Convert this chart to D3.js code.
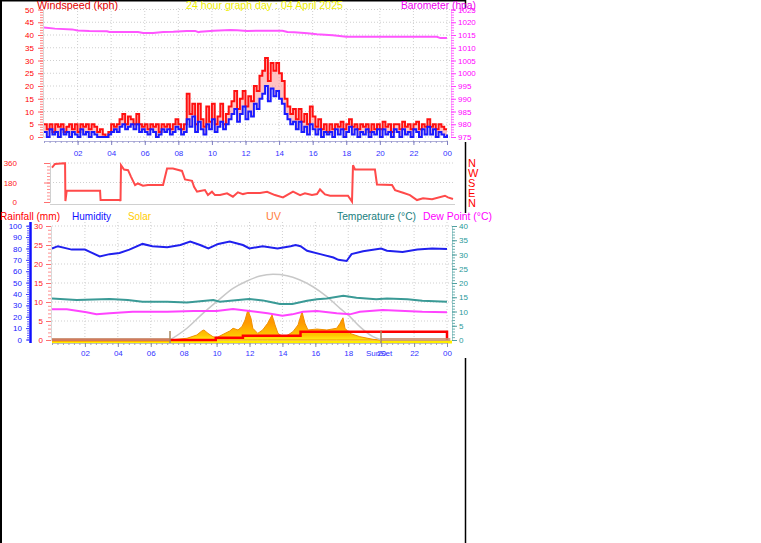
<!DOCTYPE html>
<html><head><meta charset="utf-8">
<script src="https://cdn.jsdelivr.net/npm/d3@7"></script>
<style>body{margin:0;background:#fff}svg{display:block}</style>
</head><body>
<script>
// ---------------- DATA ----------------
const hourTicks = [2,4,6,8,10,12,14,16,18,20,22,24];
const hourLabels = ["02","04","06","08","10","12","14","16","18","20","22","00"];
const windTicks = [0,5,10,15,20,25,30,35,40,45,50];
const baroTicks = [975,980,985,990,995,1000,1005,1010,1015,1020,1025];
const dirTicks = [0,180,360];
const dirLetters = ["N","W","S","E","N"];
const rainTicks = [0,5,10,15,20,25,30];
const humTicks = [0,10,20,30,40,50,60,70,80,90,100];
const tempTicks = [0,5,10,15,20,25,30,35,40];

// wind, 10-minute samples 00:00..24:00 (kph)
const windGust = [5,3,5,2,5,4, 5,2,4,5,3,5, 2,5,4,5,3,5, 4,2,3,1,0,2,
  5,4,5,7,9,5, 8,7,5,9,5,4, 5,3,5,4,5,2, 5,4,5,3,5,7,
  5,3,5,17,9,13, 5,13,7,4,12,6, 13,5,8,13,5,9, 12,14,18,11,15,18,
  12,16,14,20,18,24, 26,31,22,29,26,29, 25,22,15,12,9,11, 7,11,6,9,5,12,
  8,4,7,3,5,2, 5,3,5,4,6,3, 5,7,4,5,3,5, 4,5,2,5,3,5,
  3,6,4,5,2,5, 5,3,6,4,5,3, 5,6,3,5,4,7, 4,5,3,5,4,3, 3];
const windAvg = [2,0,3,1,2,0, 3,1,2,0,2,1, 0,3,1,2,0,2, 1,0,0,0,0,1,
  2,3,2,4,5,3, 4,5,3,5,2,3, 2,1,3,2,0,1, 3,2,3,1,2,4,
  3,1,2,7,4,8, 2,6,3,1,5,3, 7,2,4,6,3,5, 7,9,11,6,9,12,
  7,10,8,13,11,15, 17,20,14,19,16,18, 15,13,9,7,5,6, 3,6,2,4,1,5,
  3,1,3,0,2,1, 2,0,3,1,3,0, 2,4,1,3,0,2, 1,3,0,2,1,3,
  0,3,1,2,0,3, 2,0,3,1,2,0, 3,2,0,3,1,4, 1,3,0,2,1,0, 1];

const baroTimes = [0,0.65,1.67,2.0,2.7,3.75,3.9,5.6,5.9,6.5,7.1,7.7,8.5,9.0,9.2,9.3,10.1,11.1,11.5,12.1,14.2,14.5,14.9,15.7,16.25,17.2,18.0,23.4,23.6,24];
const baroValues = [1017.9,1017.5,1017.2,1016.8,1016.6,1016.5,1016.2,1016.2,1015.8,1015.8,1016.2,1016.3,1016.6,1016.6,1016.1,1016.3,1016.7,1017.0,1016.9,1016.6,1016.7,1016.2,1016.1,1015.7,1015.3,1014.9,1014.3,1014.3,1013.8,1013.8];

const dirTimes = [0,0.18,0.72,0.78,0.8,0.88,2.87,2.9,4.06,4.09,4.12,4.3,4.54,4.72,4.96,5.13,5.43,5.73,6.63,6.87,7.22,7.76,7.94,8.36,8.48,8.66,8.84,9.13,9.31,9.55,9.73,10.03,10.45,10.8,11.1,11.4,11.7,12.42,12.84,13.31,13.79,14.39,14.81,15.1,15.52,15.82,16.0,16.3,16.6,17.67,17.91,17.97,18.09,19.28,19.4,20.3,20.48,20.96,21.37,21.79,22.15,22.69,23.46,23.64,23.94];
const dirValues = [317,351,357,357,9,104,104,18,18,9,340,300,294,232,156,171,150,156,156,309,309,287,208,196,141,95,101,110,64,95,64,64,80,49,89,73,84,84,95,64,43,95,64,80,64,73,116,70,58,58,3,340,300,300,162,156,110,85,64,18,34,25,58,43,28];

const humTimes = [0,0.36,1.2,2.0,2.3,2.9,3.5,4.1,4.7,5.5,6.1,7.0,7.8,8.4,9.0,9.5,10.1,10.8,11.6,12.0,12.8,13.7,14.5,14.8,15.1,15.5,16.3,17.1,17.4,17.9,18.2,18.9,20.0,20.35,21.3,22.2,23.1,24];
const humValues = [80,82,79,79,77,73,75,76,79,84,82,81,83,86,83,80,84,86,83,80,82,80,82,83,82,78,75,72,70,69,75,77.5,80,78,77,79,80,79.5];

const tempTimes = [0,1.5,3.5,4.6,5.5,7.0,8.2,9.8,10.2,11.8,12.0,12.8,13.2,13.85,14.6,15.5,16.1,16.7,17.7,18.5,19.7,20.35,21.6,22.5,24];
const tempValues = [14.6,14.0,14.4,14.0,13.4,13.4,13.2,14.0,13.4,14.3,14.4,13.9,13.4,12.6,12.6,13.8,14.3,14.6,15.5,14.8,14.3,14.6,14.3,13.8,13.4];

const dewTimes = [0,0.9,2.1,2.7,3.5,4.9,7.0,8.6,10.0,11.0,12.0,13.1,14.0,14.6,15.25,16.1,17.3,18.1,18.7,20.1,21.1,22.5,24];
const dewValues = [10.8,10.8,9.7,9.0,9.4,9.9,9.9,10.2,10.2,10.9,10.2,9.4,8.5,9.0,9.9,10.2,9.4,9.0,9.9,10.5,10.3,9.9,9.7];

const solarTimes = [7.17,8.2,8.8,9.1,9.23,9.48,9.78,10.0,10.4,10.8,11.0,11.3,11.54,11.73,11.9,12.09,12.2,12.5,12.8,13.1,13.37,13.55,13.73,14.03,14.34,14.64,14.95,15.19,15.37,15.55,16.1,16.7,17.3,17.5,17.68,17.8,18.1,18.7,19.5,19.93];
const solarValues = [0,15,44,79,88,58,29,20,50,79,103,88,117,175,263,190,103,58,88,146,219,132,58,29,44,73,132,248,146,88,96,88,103,146,195,103,58,29,6,0];

const solarMaxTimes = [7.17,8.2,9.17,10.0,11.0,11.85,12.64,13.43,14.28,15.07,15.86,16.7,17.5,18.1,18.7,19.5,20.05];
const solarMaxValues = [0,103,234,336,453,518,561,576,564,526,467,380,278,205,117,29,0];

const rainTimes = [0,9.95,11.6,15.1,24,24];
const rainValues = [0,0.6,1.1,2.2,2.2,0];

const sunEvents = [7.17, 19.99];

// ---------------- DRAW ----------------
const FONT = '"Liberation Sans", Arial, Helvetica, sans-serif';
const W = 761, H = 543;
const svg = d3.select("body").append("svg").attr("width", W).attr("height", H);
svg.append("rect").attr("width", W).attr("height", H).attr("fill", "#fff");
const intFmt = d3.format("d");

function label(g, x, y, t, color, size, len, anchor) {
  const e = g.append("text").attr("x", x).attr("y", y).attr("fill", color)
    .attr("font-size", size).attr("font-family", FONT).text(t);
  if (len) e.attr("textLength", len).attr("lengthAdjust", "spacingAndGlyphs");
  if (anchor) e.attr("text-anchor", anchor);
  return e;
}
function styleAxis(g, tickColor, textColor, domainColor) {
  g.attr("font-size", 8).attr("font-family", FONT);
  if (domainColor) g.select(".domain").attr("stroke", domainColor);
  else g.select(".domain").remove();
  g.selectAll(".tick line").attr("stroke", tickColor);
  g.selectAll(".tick text").attr("fill", textColor);
  return g;
}
const GRID = "#cfcfcf";

// frame lines
const frame = svg.append("g").attr("stroke", "#000");
frame.append("line").attr("x1", 0).attr("x2", 466).attr("y1", 0.75).attr("y2", 0.75).attr("stroke-width", 1.5);
frame.append("line").attr("x1", 1).attr("x2", 1).attr("y1", 0).attr("y2", H).attr("stroke-width", 2);
[[0, 8], [142, 213], [358, H]].forEach(s =>
  frame.append("line").attr("x1", 465.5).attr("x2", 465.5).attr("y1", s[0]).attr("y2", s[1]).attr("stroke-width", 1.5));

// ===== TOP PANEL =====
const xTop = d3.scaleLinear([0, 24], [44, 447]);
const yWind = d3.scaleLinear([0, 50], [137, 9.5]);
const yBaro = d3.scaleLinear([975, 1025], [137, 9.5]);
const topG = svg.append("g");
topG.selectAll("line.hg").data(windTicks).join("line").attr("class", "hg")
  .attr("x1", 44).attr("x2", 450).attr("y1", d => yWind(d)).attr("y2", d => yWind(d))
  .attr("stroke", GRID).attr("stroke-dasharray", "1,2");
topG.selectAll("line.vg").data(hourTicks).join("line").attr("class", "vg")
  .attr("x1", d => xTop(d)).attr("x2", d => xTop(d)).attr("y1", 8).attr("y2", 141)
  .attr("stroke", GRID).attr("stroke-dasharray", "1,2");

const windTimes = windGust.map((d, i) => i / 6);
const windPts = windTimes.map((t, i) => ({ t, g: windGust[i], a: windAvg[i] }));
topG.append("path").datum(windPts)
  .attr("d", d3.area().curve(d3.curveStepAfter).x(d => xTop(d.t)).y0(d => yWind(d.a)).y1(d => yWind(d.g)))
  .attr("fill", "#ff9090").attr("opacity", 0.55);
topG.append("path").datum(windPts)
  .attr("d", d3.line().curve(d3.curveStepAfter).x(d => xTop(d.t)).y(d => yWind(d.g)))
  .attr("fill", "none").attr("stroke", "#ff1010").attr("stroke-width", 2);
topG.append("path").datum(windPts)
  .attr("d", d3.line().curve(d3.curveStepAfter).x(d => xTop(d.t)).y(d => yWind(d.a)))
  .attr("fill", "none").attr("stroke", "#1a1aff").attr("stroke-width", 2);
topG.append("path").datum(baroTimes.map((t, i) => [t, baroValues[i]]))
  .attr("d", d3.line().x(d => xTop(d[0])).y(d => yBaro(d[1])))
  .attr("fill", "none").attr("stroke", "#ff55ff").attr("stroke-width", 2);

// axes top
styleAxis(topG.append("g").attr("transform", "translate(43,0)")
  .call(d3.axisLeft(yWind).tickValues(d3.range(0, 51, 1)).tickSize(3).tickFormat("")), "#ff8080", "#ff0000", "#d8d8d8");
styleAxis(topG.append("g").attr("transform", "translate(43,0)")
  .call(d3.axisLeft(yWind).tickValues(windTicks).tickSize(5).tickPadding(4).tickFormat(intFmt)), "#ff6060", "#ff0000");
styleAxis(topG.append("g").attr("transform", "translate(451,0)")
  .call(d3.axisRight(yBaro).tickValues(d3.range(975, 1026, 1)).tickSize(3).tickFormat("")), "#ff66ff", "#ff00ff", "#ffb0ff");
styleAxis(topG.append("g").attr("transform", "translate(451,0)")
  .call(d3.axisRight(yBaro).tickValues(baroTicks).tickSize(5).tickPadding(2).tickFormat(intFmt)), "#ff44ff", "#ff00ff");
styleAxis(topG.append("g").attr("transform", "translate(0,141)")
  .call(d3.axisBottom(xTop).tickValues(d3.range(0, 24.01, 1 / 3)).tickSize(2).tickFormat("")), "#9a9ad0", "#3333ff", "#b0b0d8");
const tx = styleAxis(topG.append("g").attr("transform", "translate(0,141)")
  .call(d3.axisBottom(xTop).tickValues(hourTicks).tickSize(4).tickFormat((d, i) => hourLabels[i])), "#8080c0", "#3333ff");
tx.selectAll(".tick text").attr("y", 9);

// titles
label(svg, 37, 8.5, "Windspeed (kph)", "#e00000", 11, 81);
label(svg, 186, 8.5, "24 hour graph day : 04 April 2025", "#eeee00", 11, 157);
label(svg, 401, 8.5, "Barometer (hpa)", "#ee00ee", 11, 75);

// ===== MIDDLE PANEL (wind direction) =====
const xMid = d3.scaleLinear([0, 24], [52, 454]);
const yDir = d3.scaleLinear([0, 360], [202, 163]);
const midG = svg.append("g");
midG.selectAll("line.hg").data(dirTicks.slice(1)).join("line").attr("class", "hg")
  .attr("x1", 50).attr("x2", 455).attr("y1", d => yDir(d)).attr("y2", d => yDir(d))
  .attr("stroke", GRID).attr("stroke-dasharray", "1,2");
midG.append("line").attr("x1", 50).attr("x2", 455).attr("y1", 204.5).attr("y2", 204.5).attr("stroke", "#d0d0d0");
midG.append("path").datum(dirTimes.map((t, i) => [t, dirValues[i]]))
  .attr("d", d3.line().x(d => xMid(d[0])).y(d => yDir(d[1])))
  .attr("fill", "none").attr("stroke", "#ff4a4a").attr("stroke-width", 2);
styleAxis(midG.append("g").attr("transform", "translate(50,0)")
  .call(d3.axisLeft(yDir).tickValues(d3.range(0, 361, 30)).tickSize(3).tickFormat("")), "#ff9090", "#ff0000", "#d0d0d0");
styleAxis(midG.append("g").attr("transform", "translate(50,0)")
  .call(d3.axisLeft(yDir).tickValues(dirTicks).tickSize(6).tickPadding(27).tickFormat(intFmt)), "#ff7070", "#ff2020");
dirLetters.forEach((l, i) => label(svg, 468, 167 + i * 10, l, "#ff0000", 11));

// ===== BOTTOM PANEL =====
const xBot = d3.scaleLinear([0, 24], [52, 447]);
const yTemp = d3.scaleLinear([0, 40], [340, 226]);
const yRain = d3.scaleLinear([0, 30], [340, 226]);
const yHum = d3.scaleLinear([0, 100], [339.5, 225.7]);
const ySolar = d3.scaleLinear([0, 1000], [340, 226]);
const botG = svg.append("g");
botG.selectAll("line.hg").data(rainTicks.slice(1)).join("line").attr("class", "hg")
  .attr("x1", 52).attr("x2", 452).attr("y1", d => yRain(d)).attr("y2", d => yRain(d))
  .attr("stroke", GRID).attr("stroke-dasharray", "1,2");
botG.selectAll("line.vg").data(hourTicks).join("line").attr("class", "vg")
  .attr("x1", d => xBot(d)).attr("x2", d => xBot(d)).attr("y1", 222).attr("y2", 343)
  .attr("stroke", GRID).attr("stroke-dasharray", "1,2");

// baseline strip
botG.append("line").attr("x1", 52).attr("x2", 452).attr("y1", 342).attr("y2", 342)
  .attr("stroke", "#ffee00").attr("stroke-width", 3);

const defs = svg.append("defs");
const grad = defs.append("linearGradient").attr("id", "solarGrad").attr("gradientUnits", "userSpaceOnUse")
  .attr("x1", 0).attr("x2", 0).attr("y1", 342).attr("y2", 322);
grad.append("stop").attr("offset", 0).attr("stop-color", "#ffff20");
grad.append("stop").attr("offset", 0.35).attr("stop-color", "#ffc400");
grad.append("stop").attr("offset", 1).attr("stop-color", "#ff9800");
const solarPts = solarTimes.map((t, i) => [t, solarValues[i]]);
botG.append("path").datum(solarPts)
  .attr("d", d3.area().x(d => xBot(d[0])).y0(ySolar(0)).y1(d => ySolar(d[1])))
  .attr("fill", "url(#solarGrad)").attr("stroke", "#f09000").attr("stroke-width", 1);

botG.append("path").datum(solarMaxTimes.map((t, i) => [t, solarMaxValues[i]]))
  .attr("d", d3.line().curve(d3.curveMonotoneX).x(d => xBot(d[0])).y(d => ySolar(d[1])))
  .attr("fill", "none").attr("stroke", "#c8c8c8").attr("stroke-width", 1.5);

botG.append("path").datum(humTimes.map((t, i) => [t, humValues[i]]))
  .attr("d", d3.line().x(d => xBot(d[0])).y(d => yHum(d[1])))
  .attr("fill", "none").attr("stroke", "#2020ee").attr("stroke-width", 2);
botG.append("path").datum(tempTimes.map((t, i) => [t, tempValues[i]]))
  .attr("d", d3.line().x(d => xBot(d[0])).y(d => yTemp(d[1])))
  .attr("fill", "none").attr("stroke", "#3a9a96").attr("stroke-width", 2);
botG.append("path").datum(dewTimes.map((t, i) => [t, dewValues[i]]))
  .attr("d", d3.line().x(d => xBot(d[0])).y(d => yTemp(d[1])))
  .attr("fill", "none").attr("stroke", "#ff44ff").attr("stroke-width", 2);
botG.append("path").datum(rainTimes.map((t, i) => [t, rainValues[i]]))
  .attr("d", d3.line().curve(d3.curveStepAfter).x(d => xBot(d[0])).y(d => yRain(d[1])))
  .attr("fill", "none").attr("stroke", "#ff0000").attr("stroke-width", 2.5);

// night shading on baseline
const nightSpans = [[0, sunEvents[0]], [sunEvents[1], 24.2]];
botG.selectAll("rect.night").data(nightSpans).join("rect").attr("class", "night")
  .attr("x", d => xBot(d[0])).attr("width", d => xBot(d[1]) - xBot(d[0]))
  .attr("y", 338).attr("height", 3).attr("fill", "#c89070").attr("opacity", 0.85);
botG.selectAll("line.sun").data(sunEvents).join("line").attr("class", "sun")
  .attr("x1", d => xBot(d)).attr("x2", d => xBot(d)).attr("y1", 331).attr("y2", 343)
  .attr("stroke", "#a88860").attr("stroke-width", 1.5);

// bottom axes
const humAx = botG.append("g");
humAx.append("line").attr("x1", 30.5).attr("x2", 30.5).attr("y1", 222).attr("y2", 343)
  .attr("stroke", "#1010ff").attr("stroke-width", 2.5);
styleAxis(humAx.append("g").attr("transform", "translate(29,0)")
  .call(d3.axisLeft(yHum).tickValues(d3.range(0, 101, 2)).tickSize(2).tickFormat("")), "#6060ff", "#0000ff");
styleAxis(humAx.append("g").attr("transform", "translate(29,0)")
  .call(d3.axisLeft(yHum).tickValues(humTicks).tickSize(3).tickPadding(4).tickFormat(intFmt)), "#4040ff", "#2020ff");
styleAxis(botG.append("g").attr("transform", "translate(51,0)")
  .call(d3.axisLeft(yRain).tickValues(d3.range(0, 31, 1)).tickSize(3).tickFormat("")), "#ff9090", "#ff0000", "#d8d8d8");
styleAxis(botG.append("g").attr("transform", "translate(51,0)")
  .call(d3.axisLeft(yRain).tickValues(rainTicks).tickSize(5).tickPadding(3).tickFormat(intFmt)), "#ff7070", "#ff2020");
styleAxis(botG.append("g").attr("transform", "translate(452,0)")
  .call(d3.axisRight(yTemp).tickValues(d3.range(0, 41, 1)).tickSize(3).tickFormat("")), "#70b0b0", "#339999", "#a0d0d0");
styleAxis(botG.append("g").attr("transform", "translate(452,0)")
  .call(d3.axisRight(yTemp).tickValues(tempTicks).tickSize(5).tickPadding(2).tickFormat(intFmt)), "#50a0a0", "#2a9a9a");
styleAxis(botG.append("g").attr("transform", "translate(0,343)")
  .call(d3.axisBottom(xBot).tickValues(d3.range(0, 24.01, 1 / 3)).tickSize(2).tickFormat("")), "#a0a0b0", "#3333ff", "#c0c0c0");
const bx = styleAxis(botG.append("g").attr("transform", "translate(0,343)")
  .call(d3.axisBottom(xBot).tickValues(hourTicks).tickSize(4).tickFormat((d, i) => hourLabels[i])), "#9090a0", "#3333ff");
bx.selectAll(".tick text").attr("y", 7.5);
label(svg, xBot(sunEvents[1]) - 2, 356, "SunSet", "#3333ff", 8, null, "middle");

// bottom legend
label(svg, 0, 220, "Rainfall (mm)", "#ff0000", 11, 60);
label(svg, 72, 220, "Humidity", "#1010ff", 11, 39);
label(svg, 128, 220, "Solar", "#ffcc00", 11, 23);
label(svg, 266, 220, "UV", "#ff8040", 11, 15);
label(svg, 337, 220, "Temperature (°C)", "#208080", 11, 79);
label(svg, 423, 220, "Dew Point (°C)", "#ff00ff", 11, 69);
</script>
</body></html>
